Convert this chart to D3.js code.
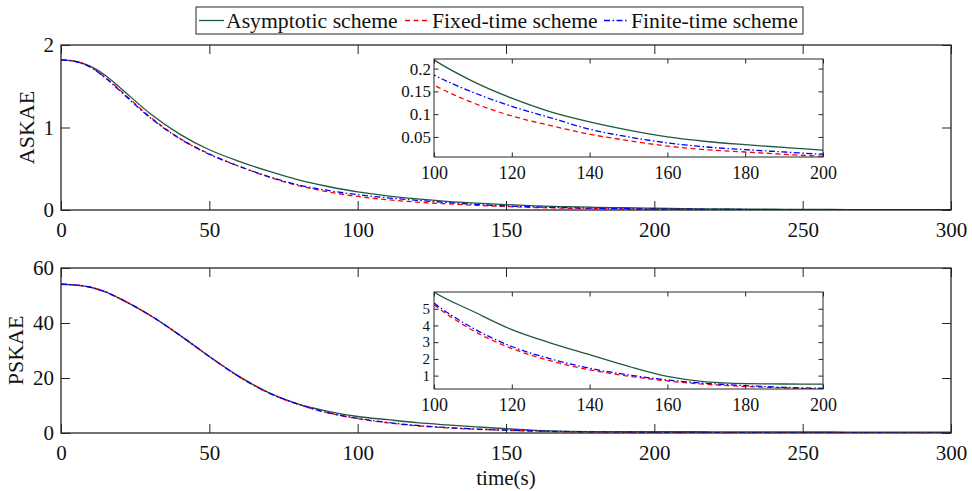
<!DOCTYPE html>
<html><head><meta charset="utf-8">
<script src="https://cdn.jsdelivr.net/npm/d3@7"></script>
<style>
html,body{margin:0;padding:0;background:#fff;}
svg{display:block;font-family:"Liberation Serif","Times New Roman",serif;}
</style></head>
<body><svg id="chart" width="972" height="491"></svg>
<script>
// ---------------- data ----------------
const time = [0,5,10,15,20,30,40,50,60,70,80,90,100,110,120,130,140,150,160,170,180,190,200,210,220,230,240,250,260,270,280,290,300];
const seriesNames = ["Asymptotic scheme","Fixed-time scheme","Finite-time scheme"];
const askaeAsymptotic = [1.82,1.80,1.74,1.63,1.48,1.17,0.92,0.73,0.59,0.47,0.365,0.285,0.219,0.172,0.135,0.105,0.083,0.065,0.050,0.040,0.033,0.027,0.021,0.017,0.014,0.011,0.009,0.007,0.006,0.005,0.004,0.0035,0.003];
const askaeFixed      = [1.82,1.80,1.73,1.605,1.45,1.13,0.87,0.68,0.53,0.40,0.295,0.22,0.164,0.125,0.096,0.075,0.056,0.042,0.030,0.022,0.017,0.012,0.0075,0.006,0.005,0.004,0.003,0.0025,0.002,0.0015,0.0012,0.001,0.001];
const askaeFinite     = [1.82,1.80,1.73,1.60,1.44,1.12,0.865,0.675,0.53,0.405,0.305,0.237,0.186,0.148,0.117,0.092,0.067,0.050,0.037,0.028,0.022,0.017,0.012,0.010,0.008,0.006,0.005,0.004,0.003,0.0025,0.002,0.0017,0.0015];
const pskaeAsymptotic = [54.1,53.8,53.0,51.3,48.8,42.8,35.6,27.8,20.6,14.7,10.5,7.9,6.0,4.85,3.75,2.95,2.25,1.55,0.95,0.62,0.52,0.5,0.49,0.46,0.44,0.42,0.40,0.38,0.36,0.34,0.32,0.30,0.28];
const pskaeFixed      = [54.1,53.8,53.0,51.3,48.8,42.8,35.6,27.8,20.5,14.6,10.4,7.3,5.24,3.7,2.62,1.88,1.35,0.97,0.68,0.48,0.35,0.27,0.20,0.17,0.14,0.12,0.10,0.09,0.08,0.07,0.06,0.055,0.05];
const pskaeFinite     = [54.1,53.8,53.0,51.3,48.8,42.8,35.6,27.8,20.5,14.6,10.45,7.38,5.34,3.84,2.74,2.0,1.44,1.04,0.74,0.54,0.40,0.30,0.24,0.20,0.17,0.15,0.13,0.11,0.10,0.09,0.08,0.07,0.065];

const mainXTicks = [0,50,100,150,200,250,300];
const askaeYTicks = [0,1,2];
const pskaeYTicks = [0,20,40,60];
const insetXTicks = [100,120,140,160,180,200];
const askaeInsetYTicks = [0.05,0.1,0.15,0.2];
const pskaeInsetYTicks = [1,2,3,4,5];
const mainXDomain = [0,300];
const askaeYDomain = [0,2];
const pskaeYDomain = [0,60];
const insetXDomain = [100,200];
const askaeInsetYDomain = [0.006,0.221];
const pskaeInsetYDomain = [0.2,6.0];

// ---------------- styles ----------------
const colors = ["#1f5a3a","#ff0000","#0000ff"];
const dashes = [null,"5,3.5","6,2.5,1.5,2.5"];
const axisColor = "#262626";
const FONT = "Liberation Serif, Times New Roman, serif";

const svg = d3.select("#chart");

function drawPanel(opt){
  const {x0,x1,y0,y1,xDomain,yDomain,xTicks,yTicks,series,tickLen,fontSize,yFontSize,yFmt,inset,labelOffX,labelGapY} = opt;
  const x = d3.scaleLinear().domain(xDomain).range([x0,x1]);
  const y = d3.scaleLinear().domain(yDomain).range([y1,y0]);
  const g = svg.append("g");
  const cid = "clip"+Math.round(x0)+"_"+Math.round(y0);
  g.append("clipPath").attr("id",cid).append("rect")
    .attr("x",x0).attr("y",y0).attr("width",x1-x0).attr("height",y1-y0);
  if(inset){
    g.append("rect").attr("x",x0).attr("y",y0).attr("width",x1-x0).attr("height",y1-y0).attr("fill","#fff");
  }
  const line = d3.line().x(d=>x(d[0])).y(d=>y(d[1])).curve(d3.curveMonotoneX);
  const lg = g.append("g").attr("clip-path",`url(#${cid})`);
  series.forEach((vals,i)=>{
    const pts = time.map((t,k)=>[t,vals[k]]);
    lg.append("path").attr("d",line(pts)).attr("fill","none")
      .attr("stroke",colors[i]).attr("stroke-width",1.3)
      .attr("stroke-dasharray",dashes[i]);
  });
  const xb = d3.axisBottom(x).tickValues(xTicks).tickSize(-tickLen).tickPadding(labelOffX).tickFormat(d3.format("d"));
  const xt = d3.axisTop(x).tickValues(xTicks).tickSize(-tickLen).tickFormat("");
  const yl = d3.axisLeft(y).tickValues(yTicks).tickSize(-tickLen).tickPadding(labelGapY).tickFormat(yFmt);
  const yr = d3.axisRight(y).tickValues(yTicks).tickSize(-tickLen).tickFormat("");
  const ax = [
    g.append("g").attr("transform",`translate(0,${y1})`).call(xb),
    g.append("g").attr("transform",`translate(0,${y0})`).call(xt),
    g.append("g").attr("transform",`translate(${x0},0)`).call(yl),
    g.append("g").attr("transform",`translate(${x1},0)`).call(yr)
  ];
  ax.forEach(a=>{
    a.select(".domain").remove();
    a.selectAll(".tick line").attr("stroke",axisColor).attr("stroke-width",1);
    a.selectAll(".tick text").attr("fill","#111").attr("font-family",FONT).attr("font-size",fontSize);
  });
  ax[0].selectAll(".tick text").attr("dy","0.71em");
  ax[2].selectAll(".tick text").attr("font-size",yFontSize||fontSize);
  g.append("rect").attr("x",x0).attr("y",y0).attr("width",x1-x0).attr("height",y1-y0)
    .attr("fill","none").attr("stroke",axisColor).attr("stroke-width",inset?1:1.3);
  return {x,y};
}

const plotX0 = 61, plotX1 = 951;
drawPanel({x0:plotX0,x1:plotX1,y0:45,y1:210,xDomain:mainXDomain,yDomain:askaeYDomain,xTicks:mainXTicks,yTicks:askaeYTicks,
  series:[askaeAsymptotic,askaeFixed,askaeFinite],tickLen:9,fontSize:21,yFmt:d3.format("d"),inset:false,labelOffX:12,labelGapY:7});
drawPanel({x0:plotX0,x1:plotX1,y0:268,y1:433,xDomain:mainXDomain,yDomain:pskaeYDomain,xTicks:mainXTicks,yTicks:pskaeYTicks,
  series:[pskaeAsymptotic,pskaeFixed,pskaeFinite],tickLen:9,fontSize:21,yFmt:d3.format("d"),inset:false,labelOffX:12,labelGapY:7});
drawPanel({x0:434,x1:823,y0:59,y1:157,xDomain:insetXDomain,yDomain:askaeInsetYDomain,xTicks:insetXTicks,yTicks:askaeInsetYTicks,
  series:[askaeAsymptotic,askaeFixed,askaeFinite],tickLen:4.5,fontSize:18,yFontSize:17,yFmt:d=>String(d),inset:true,labelOffX:9,labelGapY:3});
drawPanel({x0:434,x1:823,y0:292,y1:389,xDomain:insetXDomain,yDomain:pskaeInsetYDomain,xTicks:insetXTicks,yTicks:pskaeInsetYTicks,
  series:[pskaeAsymptotic,pskaeFixed,pskaeFinite],tickLen:4.5,fontSize:18,yFontSize:15,yFmt:d3.format("d"),inset:true,labelOffX:9,labelGapY:4});

svg.append("text").attr("transform","translate(34,127.5) rotate(-90)").attr("text-anchor","middle")
  .attr("font-family",FONT).attr("font-size",22).attr("fill","#111").text("ASKAE");
svg.append("text").attr("transform","translate(23,350.5) rotate(-90)").attr("text-anchor","middle")
  .attr("font-family",FONT).attr("font-size",22).attr("fill","#111").text("PSKAE");
svg.append("text").attr("x",(plotX0+plotX1)/2).attr("y",485).attr("text-anchor","middle")
  .attr("font-family",FONT).attr("font-size",21).attr("fill","#111").text("time(s)");

const leg = svg.append("g");
leg.append("rect").attr("x",196).attr("y",7).attr("width",607).attr("height",27)
  .attr("fill","#fff").attr("stroke",axisColor).attr("stroke-width",1);
const legX = [199,405,604];
seriesNames.forEach((name,i)=>{
  leg.append("line").attr("x1",legX[i]).attr("x2",legX[i]+25).attr("y1",20.5).attr("y2",20.5)
    .attr("stroke",colors[i]).attr("stroke-width",1.3).attr("stroke-dasharray",dashes[i]);
  leg.append("text").attr("x",legX[i]+27).attr("y",28).attr("font-family",FONT).attr("font-size",21.7)
    .attr("fill","#111").text(name);
});
</script></body></html>
